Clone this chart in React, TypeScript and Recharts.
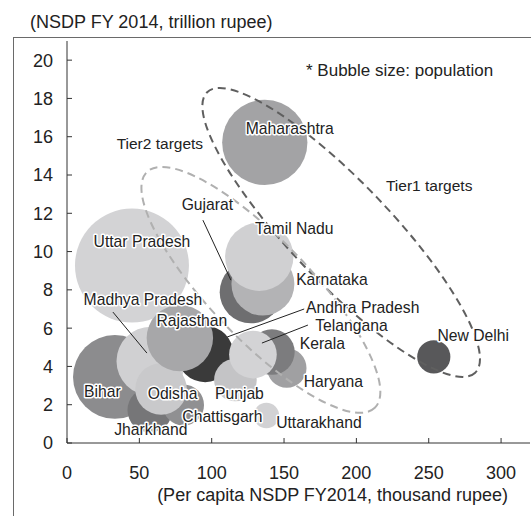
import React from 'react';
import { ScatterChart, Scatter, XAxis, YAxis, ZAxis } from 'recharts';

// ---- Data (drawing order: bottom to top) ----
const states = [
  'Uttar Pradesh', 'Maharashtra', 'Gujarat', 'Karnataka', 'Tamil Nadu',
  'Bihar', 'Jharkhand', 'Madhya Pradesh', 'Chattisgarh', 'Odisha',
  'Andhra Pradesh', 'Rajasthan', 'Punjab', 'Haryana', 'Kerala',
  'Telangana', 'Uttarakhand', 'New Delhi',
];
// per capita NSDP FY2014, thousand rupee
const perCapita = [44.9, 136.7, 127.1, 135.4, 132.9, 33.1, 57.3, 58.0, 80.5, 65.0, 95.5, 78.0, 116.4, 151.9, 141.6, 128.5, 137.8, 253.5];
// NSDP FY2014, trillion rupee
const nsdp = [9.27, 15.7, 7.88, 8.3, 9.73, 3.45, 1.72, 4.28, 1.98, 2.82, 4.65, 5.48, 3.29, 3.92, 4.75, 4.62, 1.44, 4.5];
// population, million (bubble size)
const population = [200, 112, 60, 61, 72, 108, 31, 73, 26, 41, 49, 68, 28, 24, 32, 35, 10, 17];

const xTicks = [0, 50, 100, 150, 200, 250, 300];
const yTicks = [0, 2, 4, 6, 8, 10, 12, 14, 16, 18, 20];

const tierNames = ['Tier1 targets', 'Tier2 targets'];
const tierCenterX = [189.5, 134.0];
const tierCenterY = [11.0, 8.0];

// ---- Styles ----
const bubbleColors = [
  '#d3d3d5', '#a3a3a5', '#6e6e70', '#b3b3b5', '#d0d0d2',
  '#8c8c8e', '#767678', '#d0d0d2', '#909092', '#c9c9cb',
  '#3a3a3a', '#a7a7a9', '#c4c4c6', '#a0a0a2', '#7c7c7e',
  '#d3d3d5', '#d2d2d4', '#58585a',
];

type Lay = { dx: number; dy: number; line?: [number, number, number, number] };
const labelLayout: Record<string, Lay> = {
  'Uttar Pradesh': { dx: 10, dy: -24.5 },
  'Maharashtra': { dx: 25, dy: -14 },
  'Gujarat': { dx: -43.5, dy: -88, line: [-48, -72, -20, -12] },
  'Karnataka': { dx: 69, dy: -5 },
  'Tamil Nadu': { dx: 35, dy: -28.7 },
  'Bihar': { dx: -12.5, dy: 15 },
  'Jharkhand': { dx: 1, dy: 19 },
  'Madhya Pradesh': { dx: -8, dy: -62, line: [-38, -49, -4, -8] },
  'Chattisgarh': { dx: 39, dy: 11 },
  'Odisha': { dx: 11.5, dy: 4 },
  'Rajasthan': { dx: 12, dy: -18 },
  'Andhra Pradesh': { dx: 157.5, dy: -46.3, line: [99, -45, 22, -17] },
  'Punjab': { dx: 4, dy: 13 },
  'Haryana': { dx: 46.5, dy: 14 },
  'Kerala': { dx: 50.5, dy: -9 },
  'Telangana': { dx: 98.5, dy: -29.5, line: [55, -29.5, 9, -11.5] },
  'Uttarakhand': { dx: 52.5, dy: 7.5 },
  'New Delhi': { dx: 39.5, dy: -21.7 },
};

const tierStyle = [
  { rx: 194, ry: 50, angle: 46.3, stroke: '#5f5f5f', ldx: 88, ldy: -47 },
  { rx: 164, ry: 50, angle: 46, stroke: '#b0b0b0', ldx: -101, ldy: -146 },
];

const bubbleData = states.map((name, i) => ({
  name,
  x: perCapita[i],
  y: nsdp[i],
  pop: population[i],
}));

const tierData = tierNames.map((name, i) => ({ name, x: tierCenterX[i], y: tierCenterY[i], idx: i }));

const FONT = '"Liberation Sans", Arial, Helvetica, sans-serif';

const BubbleShape = (p: any) => {
  const idx = states.indexOf(p.payload.name);
  const r = p.width / 2;
  return <circle cx={p.cx} cy={p.cy} r={r} fill={bubbleColors[idx]} />;
};

const EllipseShape = (p: any) => {
  const s = tierStyle[p.payload.idx];
  return (
    <g>
      <ellipse
        cx={p.cx}
        cy={p.cy}
        rx={s.rx}
        ry={s.ry}
        fill="none"
        stroke={s.stroke}
        strokeWidth={2}
        strokeDasharray="8 5"
        transform={`rotate(${s.angle} ${p.cx} ${p.cy})`}
      />
      <text
        x={p.cx + s.ldx}
        y={p.cy + s.ldy}
        dy="0.35em"
        textAnchor="middle"
        fontSize={15.5}
        fill="#222"
        fontFamily={FONT}
      >
        {p.payload.name}
      </text>
    </g>
  );
};

const LabelShape = (p: any) => {
  const name = p.payload.name;
  const lay = labelLayout[name];
  return (
    <g>
      {lay.line && (
        <line
          x1={p.cx + lay.line[0]}
          y1={p.cy + lay.line[1]}
          x2={p.cx + lay.line[2]}
          y2={p.cy + lay.line[3]}
          stroke="#222"
          strokeWidth={1}
        />
      )}
      <text
        x={p.cx + lay.dx}
        y={p.cy + lay.dy}
        dy="0.35em"
        textAnchor="middle"
        fontSize={15.7}
        fill="#222"
        stroke="#fff"
        strokeWidth={3}
        strokeLinejoin="round"
        paintOrder="stroke"
        fontFamily={FONT}
      >
        {name}
      </text>
    </g>
  );
};

export default function App() {
  return (
    <div style={{ position: 'absolute', left: 0, top: 0, width: 531, height: 516, background: '#fff', fontFamily: FONT, overflow: 'hidden' }}>
      <div style={{ position: 'absolute', left: 13, top: 37, width: 540, height: 500, borderLeft: '1.5px solid #6a6a6a', borderTop: '1.5px solid #6a6a6a' }} />
      <div style={{ position: 'absolute', left: 0, top: 0 }}>
        <ScatterChart width={531} height={516} margin={{ top: 41, right: 1, bottom: 43, left: 17 }}>
          <XAxis
            type="number"
            dataKey="x"
            domain={[0, 320]}
            ticks={xTicks}
            tickSize={-5}
            tickMargin={28}
            height={30}
            stroke="#333"
            tick={{ fontSize: 18, fill: '#222', fontFamily: FONT }}
            allowDataOverflow
          />
          <YAxis
            type="number"
            dataKey="y"
            domain={[0, 21]}
            ticks={yTicks}
            tickSize={-5}
            tickMargin={19}
            width={50}
            stroke="#333"
            tick={{ fontSize: 18, fill: '#222', fontFamily: FONT }}
            allowDataOverflow
          />
          <ZAxis type="number" dataKey="pop" domain={[0, 200]} range={[0, 10200]} />
          <Scatter data={bubbleData} shape={BubbleShape} isAnimationActive={false} />
          <Scatter data={tierData} shape={EllipseShape} isAnimationActive={false} />
          <Scatter data={bubbleData} shape={LabelShape} isAnimationActive={false} />
        </ScatterChart>
      </div>
      <svg width={531} height={516} style={{ position: 'absolute', left: 0, top: 0, pointerEvents: 'none' }}>
        <text x={30} y={28} fontSize={18} fill="#222" fontFamily={FONT}>(NSDP FY 2014, trillion rupee)</text>
        <text x={508} y={501} fontSize={18} fill="#222" textAnchor="end" fontFamily={FONT}>(Per capita NSDP FY2014, thousand rupee)</text>
        <text x={306} y={76} fontSize={17} fill="#222" fontFamily={FONT}>* Bubble size: population</text>
      </svg>
    </div>
  );
}
